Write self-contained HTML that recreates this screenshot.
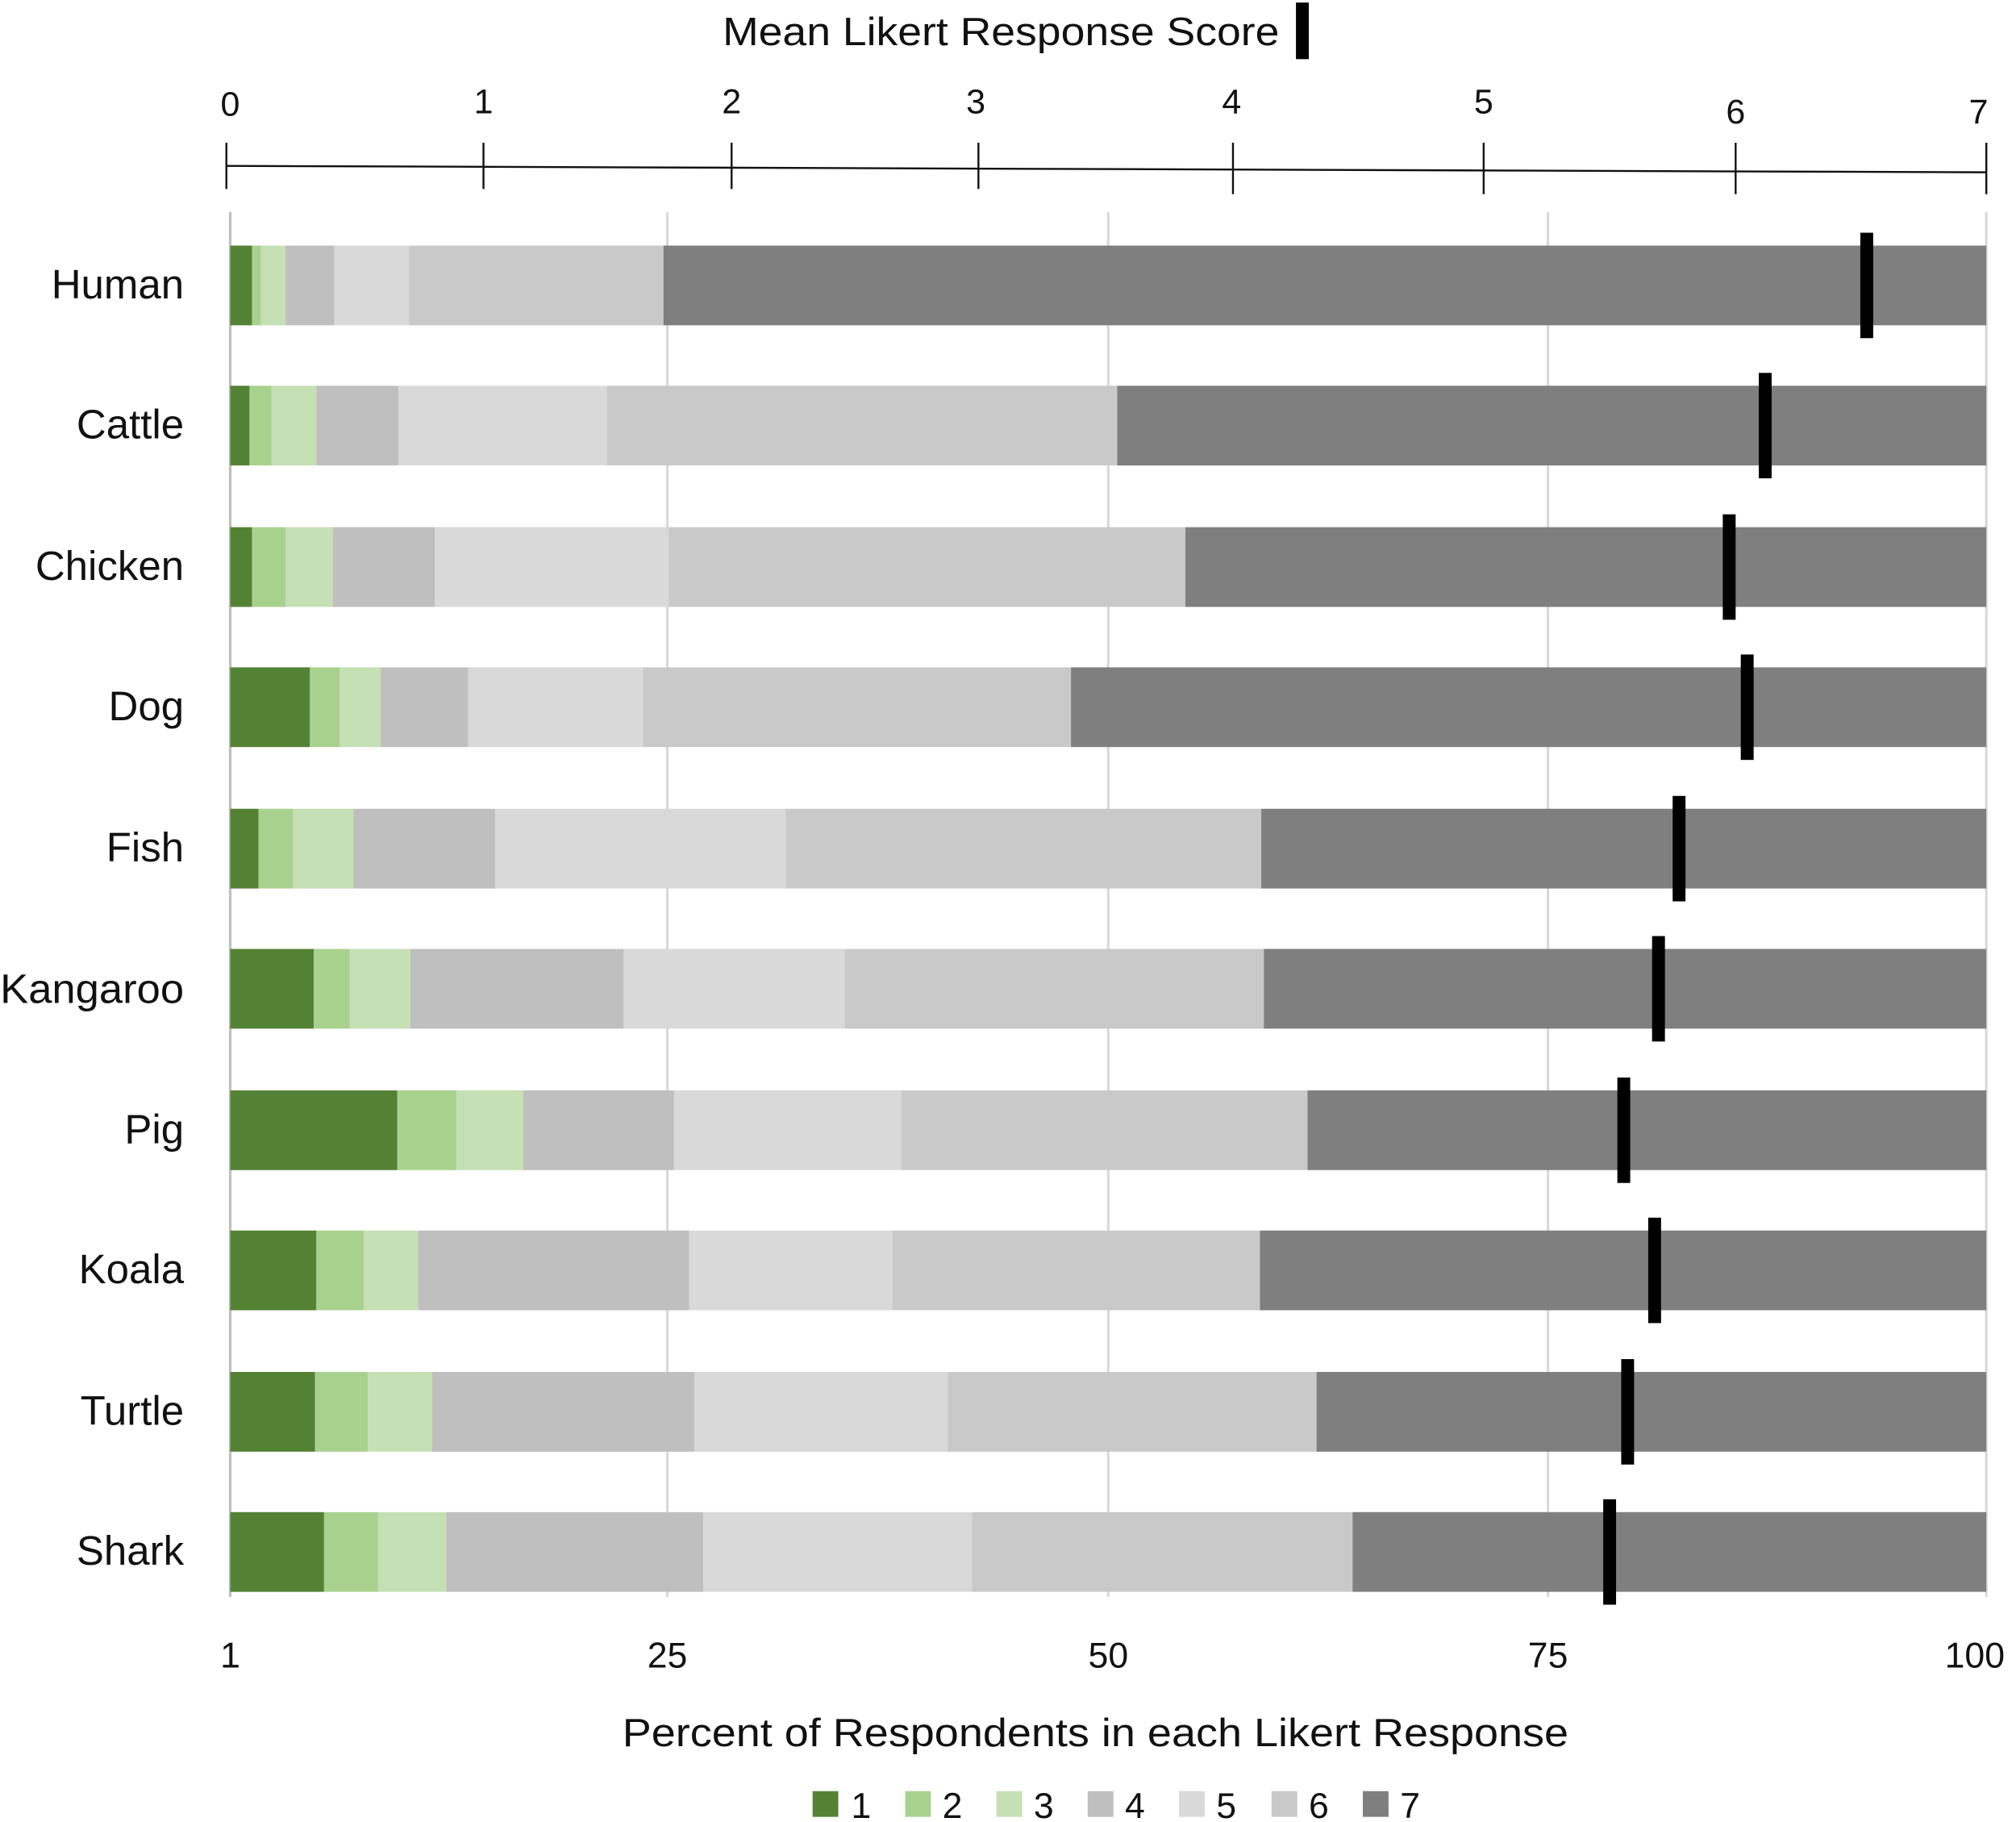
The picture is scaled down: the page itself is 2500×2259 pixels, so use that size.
<!DOCTYPE html>
<html><head><meta charset="utf-8"><style>
html,body{margin:0;padding:0;background:#fff}
svg{display:block}
text{font-family:"Liberation Sans",sans-serif;fill:#111}
</style></head><body>
<svg width="2500" height="2259" viewBox="0 0 1568 1417" xmlns="http://www.w3.org/2000/svg">
<g stroke="#d9d9d9" stroke-width="2">
<line x1="519" y1="165" x2="519" y2="1242"/>
<line x1="862" y1="165" x2="862" y2="1242"/>
<line x1="1204" y1="165" x2="1204" y2="1242"/>
<line x1="1545" y1="165" x2="1545" y2="1242"/>
</g>
<line x1="179" y1="165" x2="179" y2="1242" stroke="#bfbfbf" stroke-width="2"/>
<g id="bars"></g>
<line x1="176" y1="129" x2="1545" y2="134" stroke="#111" stroke-width="1.5"/>
<g stroke="#111" stroke-width="1.5">
<line x1="176" y1="111" x2="176" y2="147"/><line x1="376" y1="111" x2="376" y2="147"/>
<line x1="569" y1="111" x2="569" y2="147"/><line x1="761" y1="111" x2="761" y2="147"/>
<line x1="959" y1="111" x2="959" y2="151"/><line x1="1154" y1="111" x2="1154" y2="151"/>
<line x1="1350" y1="111" x2="1350" y2="151"/><line x1="1545" y1="111" x2="1545" y2="151"/>
</g>
<g font-size="27" text-anchor="middle">
<text x="179" y="90">0</text><text x="376" y="88">1</text><text x="569" y="88">2</text><text x="759" y="88">3</text><text x="958" y="88">4</text><text x="1154" y="88">5</text><text x="1350" y="96">6</text><text x="1539" y="96">7</text>
</g>
<text x="562" y="35" font-size="31" textLength="433" lengthAdjust="spacingAndGlyphs">Mean Likert Response Score</text>
<rect x="1008" y="2" width="10" height="44" fill="#000"/>
<g font-size="32" text-anchor="end">
<text x="143" y="232">Human</text><text x="143" y="341">Cattle</text><text x="143" y="451">Chicken</text><text x="143" y="560">Dog</text><text x="143" y="670">Fish</text><text x="143" y="780" textLength="143" lengthAdjust="spacingAndGlyphs">Kangaroo</text><text x="143" y="889">Pig</text><text x="143" y="998">Koala</text><text x="143" y="1108">Turtle</text><text x="143" y="1217">Shark</text>
</g>
<g font-size="28" text-anchor="middle">
<text x="179" y="1297">1</text><text x="519" y="1297">25</text><text x="862" y="1297">50</text><text x="1204" y="1297">75</text><text x="1536" y="1297">100</text>
</g>
<text x="484" y="1358" font-size="31" textLength="736" lengthAdjust="spacingAndGlyphs">Percent of Respondents in each Likert Response</text>
<g font-size="28">
<rect x="632" y="1393" width="20" height="20" fill="#548235"/><text x="662" y="1414">1</text>
<rect x="704" y="1393" width="20" height="20" fill="#a9d18e"/><text x="733" y="1414">2</text>
<rect x="775" y="1393" width="20" height="20" fill="#c5e0b4"/><text x="804" y="1414">3</text>
<rect x="846" y="1393" width="20" height="20" fill="#bfbfbf"/><text x="875" y="1414">4</text>
<rect x="917" y="1393" width="20" height="20" fill="#d9d9d9"/><text x="946" y="1414">5</text>
<rect x="989" y="1393" width="20" height="20" fill="#c9c9c9"/><text x="1018" y="1414">6</text>
<rect x="1060" y="1393" width="20" height="20" fill="#7f7f7f"/><text x="1089" y="1414">7</text>
</g>
</svg>
<script>
var cols=["#548235","#a9d18e","#c5e0b4","#bfbfbf","#d9d9d9","#c9c9c9","#7f7f7f"];
var data=[
[191,[179,196,203,222,260,318,516,1545],1452],
[300,[179,194,211,246,310,472,869,1545],1373],
[410,[179,196,222,259,338,520,922,1545],1345],
[519,[179,241,264,296,364,500,833,1545],1359],
[629,[179,201,228,275,385,611,981,1545],1306],
[738,[179,244,272,319,485,657,983,1545],1290],
[848,[179,309,355,407,524,701,1017,1545],1263],
[957,[179,246,283,325,536,694,980,1545],1287],
[1067,[179,245,286,336,540,737,1024,1545],1266],
[1176,[179,252,294,347,547,756,1052,1545],1252]];
var s="";
data.forEach(function(d){var y=d[0],b=d[1];
for(var i=0;i<7;i++)s+='<rect x="'+b[i]+'" y="'+y+'" width="'+(b[i+1]-b[i])+'" height="62" fill="'+cols[i]+'"/>';
s+='<rect x="'+(d[2]-5)+'" y="'+(y-10)+'" width="10" height="82" fill="#000"/>';});
document.getElementById("bars").innerHTML=s;
</script>
</body></html>
